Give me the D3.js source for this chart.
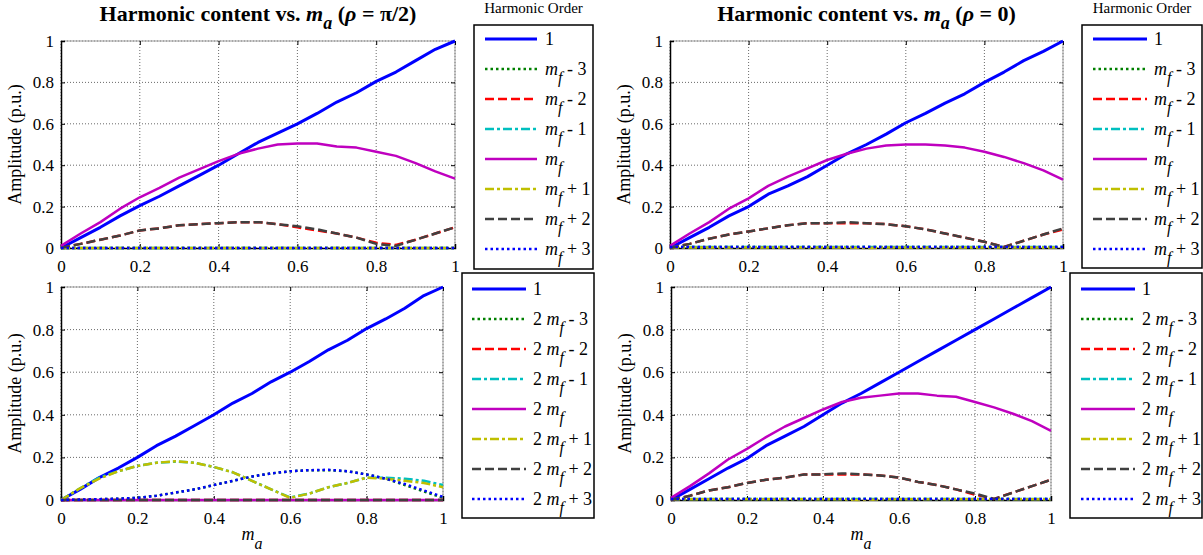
<!DOCTYPE html>
<html>
<head>
<meta charset="utf-8">
<script src="https://cdn.jsdelivr.net/npm/d3@7"></script>
<style>
  html, body { margin: 0; padding: 0; background: #fff; }
  svg { display: block; }
  svg text { font-family: "Liberation Serif", "Times New Roman", Times, serif; fill: #000; }
</style>
</head>
<body>
<svg id="chart" width="1203" height="555"></svg>
<script>
// Modulation index sweep
const ma = [0, 0.05, 0.1, 0.15, 0.2, 0.25, 0.3, 0.35, 0.4, 0.45, 0.5,
            0.55, 0.6, 0.65, 0.7, 0.75, 0.8, 0.85, 0.9, 0.95, 1];
const xTicks = [0, 0.2, 0.4, 0.6, 0.8, 1];
const yTicks = [0, 0.2, 0.4, 0.6, 0.8, 1];

// Legend entries
const ordersFirst = ["1", "mf - 3", "mf - 2", "mf - 1", "mf", "mf + 1", "mf + 2", "mf + 3"];
const ordersSecond = ["1", "2 mf - 3", "2 mf - 2", "2 mf - 1", "2 mf", "2 mf + 1", "2 mf + 2", "2 mf + 3"];

// rho = pi/2, first carrier group
const a1Fund = [0, 0.05, 0.1, 0.155, 0.205, 0.25, 0.3, 0.35, 0.4, 0.455, 0.51,
                0.555, 0.6, 0.65, 0.705, 0.75, 0.805, 0.85, 0.905, 0.96, 1];
const a1Mf   = [0.01, 0.07, 0.125, 0.19, 0.245, 0.29, 0.34, 0.38, 0.42, 0.455, 0.48,
                0.5, 0.505, 0.505, 0.49, 0.485, 0.465, 0.445, 0.41, 0.37, 0.335];
const a1Mfm2 = [0, 0.02, 0.04, 0.06, 0.085, 0.095, 0.11, 0.115, 0.12, 0.125, 0.125,
                0.115, 0.1, 0.085, 0.07, 0.05, 0.025, 0.015, 0.04, 0.07, 0.1];
const a1Mfp2 = [0, 0.02, 0.04, 0.06, 0.085, 0.095, 0.11, 0.115, 0.12, 0.125, 0.125,
                0.115, 0.105, 0.09, 0.07, 0.05, 0.02, 0.01, 0.04, 0.07, 0.1];
const a1Zero = [0, 0, 0, 0, 0, 0, 0, 0, 0, 0, 0, 0, 0, 0, 0, 0, 0, 0, 0, 0, 0];

// rho = 0, first carrier group
const b1Fund = [0, 0.05, 0.1, 0.155, 0.2, 0.26, 0.3, 0.345, 0.4, 0.455, 0.5,
                0.55, 0.605, 0.65, 0.7, 0.745, 0.8, 0.85, 0.905, 0.95, 1];
const b1Mf   = [0.01, 0.07, 0.125, 0.19, 0.24, 0.3, 0.345, 0.385, 0.425, 0.455, 0.48,
                0.495, 0.5, 0.5, 0.495, 0.485, 0.465, 0.44, 0.41, 0.375, 0.33];
const b1Mfm2 = [0, 0.02, 0.045, 0.065, 0.08, 0.095, 0.11, 0.12, 0.12, 0.12, 0.12,
                0.115, 0.105, 0.09, 0.07, 0.05, 0.03, 0.005, 0.035, 0.065, 0.09];
const b1Mfp2 = [0, 0.02, 0.045, 0.065, 0.08, 0.095, 0.11, 0.12, 0.12, 0.125, 0.12,
                0.115, 0.105, 0.09, 0.07, 0.05, 0.03, 0.005, 0.035, 0.065, 0.095];
const b1Low  = [0.005, 0.005, 0.005, 0.005, 0.005, 0.005, 0.005, 0.005, 0.005, 0.005, 0.005,
                0.005, 0.005, 0.005, 0.005, 0.005, 0.005, 0.005, 0.005, 0.005, 0.005];
const b1Odd  = [0.003, 0.003, 0.003, 0.003, 0.003, 0.003, 0.003, 0.003, 0.003, 0.003, 0,
                0.003, 0.003, 0.003, 0.003, 0.003, 0.003, 0.003, 0.003, 0.003, 0.003];

// rho = pi/2, second carrier group
const a2Fund = [0, 0.05, 0.105, 0.15, 0.2, 0.255, 0.3, 0.35, 0.4, 0.455, 0.5,
                0.555, 0.6, 0.65, 0.705, 0.75, 0.805, 0.85, 0.9, 0.96, 1];
const a2M3   = [0, 0.002, 0.004, 0.006, 0.01, 0.02, 0.035, 0.05, 0.07, 0.09, 0.11,
                0.125, 0.135, 0.14, 0.14, 0.135, 0.12, 0.1, 0.07, 0.04, 0.01];
const a2M1   = [0, 0.055, 0.105, 0.135, 0.16, 0.175, 0.18, 0.175, 0.155, 0.13, 0.09,
                0.05, 0.012, 0.03, 0.06, 0.08, 0.105, 0.105, 0.1, 0.09, 0.07];
const a2P1   = [0, 0.055, 0.1, 0.135, 0.16, 0.175, 0.182, 0.175, 0.155, 0.13, 0.09,
                0.05, 0.01, 0.03, 0.06, 0.08, 0.105, 0.1, 0.09, 0.08, 0.06];
const a2P3   = [0, 0.002, 0.004, 0.006, 0.01, 0.02, 0.035, 0.05, 0.07, 0.09, 0.11,
                0.125, 0.135, 0.14, 0.142, 0.135, 0.12, 0.1, 0.075, 0.045, 0.015];
const a2Zero = [0, 0, 0, 0, 0, 0, 0, 0, 0, 0, 0, 0, 0, 0, 0, 0, 0, 0, 0, 0, 0];

// rho = 0, second carrier group
const b2Fund = [0, 0.05, 0.1, 0.15, 0.195, 0.255, 0.3, 0.345, 0.4, 0.455, 0.5,
                0.55, 0.6, 0.65, 0.7, 0.75, 0.8, 0.85, 0.9, 0.95, 1];
const b2Mf   = [0.01, 0.065, 0.125, 0.19, 0.24, 0.295, 0.345, 0.385, 0.425, 0.46, 0.48,
                0.49, 0.5, 0.5, 0.49, 0.485, 0.46, 0.435, 0.405, 0.37, 0.325];
const b2Mfm2 = [0, 0.02, 0.045, 0.06, 0.08, 0.095, 0.105, 0.12, 0.12, 0.12, 0.12,
                0.115, 0.105, 0.085, 0.07, 0.05, 0.025, 0.005, 0.035, 0.065, 0.095];
const b2Mfp2 = [0, 0.02, 0.045, 0.06, 0.08, 0.095, 0.105, 0.12, 0.12, 0.125, 0.12,
                0.115, 0.105, 0.085, 0.07, 0.05, 0.03, 0.005, 0.035, 0.065, 0.095];
const b2Low  = [0.005, 0.005, 0.005, 0.005, 0.005, 0.005, 0.005, 0.005, 0.005, 0.005, 0.005,
                0.005, 0.005, 0.005, 0.005, 0.005, 0.005, 0.005, 0.005, 0.005, 0.005];
const b2Odd  = [0.003, 0.003, 0.003, 0.003, 0.003, 0.003, 0.003, 0.003, 0.003, 0.003, 0,
                0.003, 0.003, 0.003, 0.003, 0.003, 0.003, 0.003, 0.003, 0.003, 0.003];

// Line styles, one per harmonic order (same order as the legend)
const styles = [
  { color: "#0000ff", dash: null, width: 3 },
  { color: "#008000", dash: "2.5,3", width: 2.5 },
  { color: "#ff0000", dash: "9,4", width: 2.5 },
  { color: "#00bfbf", dash: "9,3,3,3", width: 2.5 },
  { color: "#bf00bf", dash: null, width: 2.5 },
  { color: "#bfbf00", dash: "9,3,3,3", width: 2.5 },
  { color: "#404040", dash: "9,4", width: 2.5 },
  { color: "#0000ff", dash: "2.5,3", width: 2.5 }
];

const SERIF = "'Liberation Serif', 'Times New Roman', Times, serif";
const svg = d3.select("#chart");

const panels = [
  { x0: 61, x1: 455, y0: 41, y1: 248, title: "π/2", titleBaseline: 21, xLabel: false,
    legend: { x0: 474, x1: 593, y0: 25, y1: 269, l0: 485, l1: 537, tx: 545, first: 39, step: 30, heading: true },
    labels: ordersFirst,
    series: [a1Fund, a1Zero, a1Mfm2, a1Zero, a1Mf, a1Zero, a1Mfp2, a1Zero] },
  { x0: 670, x1: 1063, y0: 41, y1: 248, title: "0", titleBaseline: 21, xLabel: false,
    legend: { x0: 1082, x1: 1202, y0: 25, y1: 268, l0: 1093, l1: 1147, tx: 1154, first: 39, step: 30, heading: true },
    labels: ordersFirst,
    series: [b1Fund, b1Low, b1Mfm2, b1Low, b1Mf, b1Odd, b1Mfp2, b1Low] },
  { x0: 61, x1: 443, y0: 287, y1: 500, title: null, xLabel: true,
    legend: { x0: 462, x1: 594, y0: 273, y1: 518, l0: 472, l1: 526, tx: 533, first: 289, step: 30, heading: false },
    labels: ordersSecond,
    series: [a2Fund, a2M3, a2Zero, a2M1, a2Zero, a2P1, a2Zero, a2P3] },
  { x0: 671, x1: 1051, y0: 287, y1: 500, title: null, xLabel: true,
    legend: { x0: 1070, x1: 1202, y0: 273, y1: 518, l0: 1081, l1: 1135, tx: 1142, first: 289, step: 30, heading: false },
    labels: ordersSecond,
    series: [b2Fund, b2Low, b2Mfm2, b2Low, b2Mf, b2Odd, b2Mfp2, b2Low] }
];

// Writes a harmonic-order label, setting "mf" as an italic m with subscript f
function writeOrder(textSel, label) {
  const parts = label.split("mf");
  textSel.append("tspan").text(parts[0]);
  if (parts.length > 1) {
    textSel.append("tspan").attr("font-style", "italic").text("m");
    textSel.append("tspan").attr("font-style", "italic").attr("font-size", 16)
      .attr("dy", 8).text("f");
    textSel.append("tspan").attr("dy", -8).text(parts[1] ? "\u00a0" + parts[1].trim() : "");
  }
}

panels.forEach(p => {
  const g = svg.append("g").attr("font-family", SERIF);
  const x = d3.scaleLinear().domain([0, 1]).range([p.x0, p.x1]);
  const y = d3.scaleLinear().domain([0, 1]).range([p.y1, p.y0]);

  // grid
  const grid = g.append("g").attr("stroke", "#444").attr("stroke-width", 0.8)
    .attr("stroke-dasharray", "1,2");
  grid.selectAll(".gx").data(xTicks).join("line")
    .attr("x1", d => x(d)).attr("x2", d => x(d)).attr("y1", p.y0).attr("y2", p.y1);
  grid.selectAll(".gy").data(yTicks).join("line")
    .attr("y1", d => y(d)).attr("y2", d => y(d)).attr("x1", p.x0).attr("x2", p.x1);

  // box (top/right lighter)
  g.append("line").attr("x1", p.x0).attr("x2", p.x1).attr("y1", p.y0).attr("y2", p.y0)
    .attr("stroke", "#999").attr("stroke-width", 1);
  g.append("line").attr("x1", p.x1).attr("x2", p.x1).attr("y1", p.y0).attr("y2", p.y1)
    .attr("stroke", "#999").attr("stroke-width", 1);

  // axes with inward ticks
  const fmt = d => String(d);
  const ax = g.append("g").attr("transform", `translate(0,${p.y1})`)
    .call(d3.axisBottom(x).tickValues(xTicks).tickFormat(fmt).tickSize(-4).tickPadding(12));
  const ay = g.append("g").attr("transform", `translate(${p.x0},0)`)
    .call(d3.axisLeft(y).tickValues(yTicks).tickFormat(fmt).tickSize(-4).tickPadding(7));
  const axTop = g.append("g").attr("transform", `translate(0,${p.y0})`)
    .call(d3.axisTop(x).tickValues(xTicks).tickFormat("").tickSize(-4));
  const ayRight = g.append("g").attr("transform", `translate(${p.x1},0)`)
    .call(d3.axisRight(y).tickValues(yTicks).tickFormat("").tickSize(-4));
  [axTop, ayRight].forEach(a => { a.select(".domain").remove(); a.selectAll("line").attr("stroke", "#000"); });
  [ax, ay].forEach(a => {
    a.attr("font-family", SERIF).attr("font-size", 17);
    a.select(".domain").attr("stroke", "#000").attr("stroke-width", 1.5);
    a.selectAll("text").attr("font-family", SERIF).attr("font-size", 17).attr("fill", "#000");
  });

  // data lines
  const line = d3.line().x((d, i) => x(ma[i])).y(d => y(d));
  p.series.forEach((s, k) => {
    const st = styles[k];
    g.append("path").datum(s).attr("d", line).attr("fill", "none")
      .attr("stroke", st.color).attr("stroke-width", st.width)
      .attr("stroke-dasharray", st.dash).attr("stroke-linejoin", "round");
  });

  // y label
  g.append("text")
    .attr("transform", `translate(${p.x0 - 40},${(p.y0 + p.y1) / 2}) rotate(-90)`)
    .attr("text-anchor", "middle").attr("font-size", 18).text("Amplitude (p.u.)");

  // x label
  if (p.xLabel) {
    const t = g.append("text").attr("x", (p.x0 + p.x1) / 2).attr("y", 540)
      .attr("text-anchor", "middle").attr("font-size", 18);
    t.append("tspan").attr("font-style", "italic").text("m");
    t.append("tspan").attr("font-style", "italic").attr("font-size", 16).attr("dy", 9).text("a");
  }

  // title
  if (p.title) {
    const t = g.append("text").attr("x", (p.x0 + p.x1) / 2).attr("y", p.titleBaseline)
      .attr("text-anchor", "middle").attr("font-size", 22).attr("font-weight", "bold");
    t.append("tspan").text("Harmonic content vs. ");
    t.append("tspan").attr("font-style", "italic").text("m");
    t.append("tspan").attr("font-style", "italic").attr("font-size", 18).attr("dy", 8).text("a");
    t.append("tspan").attr("dy", -8).text(" (");
    t.append("tspan").attr("font-style", "italic").text("ρ");
    t.append("tspan").text(" = " + p.title + ")");
  }

  // legend
  const L = p.legend;
  if (L.heading) {
    g.append("text").attr("x", (L.x0 + L.x1) / 2).attr("y", 13)
      .attr("text-anchor", "middle").attr("font-size", 15).text("Harmonic Order");
  }
  g.append("rect").attr("x", L.x0).attr("y", L.y0)
    .attr("width", L.x1 - L.x0).attr("height", L.y1 - L.y0)
    .attr("fill", "#fff").attr("stroke", "#000").attr("stroke-width", 1.5);
  p.labels.forEach((lab, k) => {
    const st = styles[k];
    const ly = L.first + k * L.step;
    g.append("line").attr("x1", L.l0).attr("x2", L.l1).attr("y1", ly).attr("y2", ly)
      .attr("stroke", st.color).attr("stroke-width", st.width).attr("stroke-dasharray", st.dash);
    const t = g.append("text").attr("x", L.tx).attr("y", ly + 6).attr("font-size", 18);
    writeOrder(t, lab);
  });
});
</script>
</body>
</html>
